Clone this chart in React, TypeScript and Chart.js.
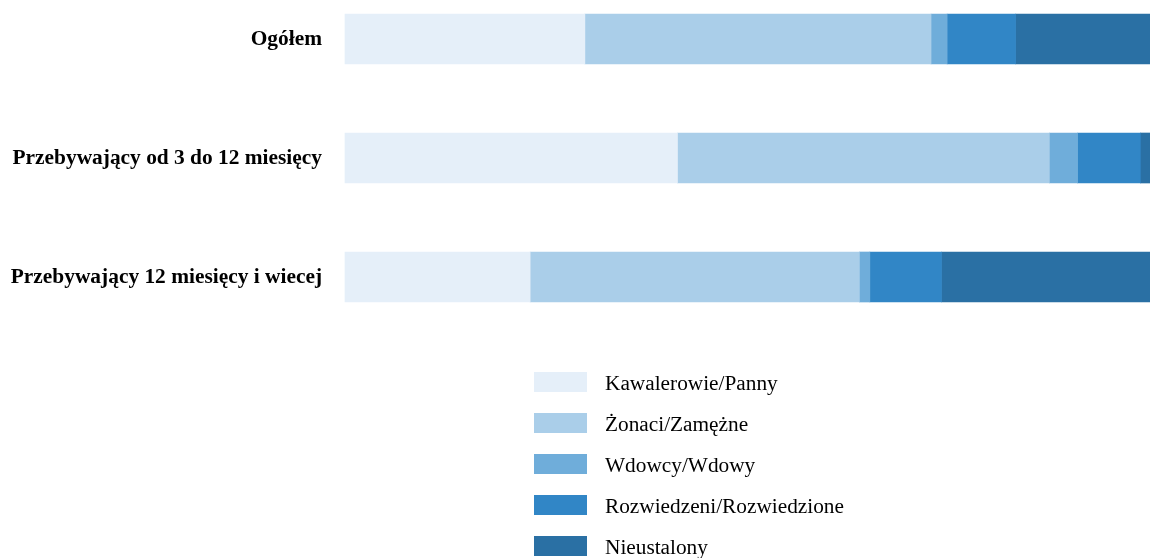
import React, { useEffect, useRef } from "react";
import { Chart, registerables } from "chart.js";

Chart.register(...registerables);

const categories = [
  "Ogółem",
  "Przebywający od 3 do 12 miesięcy",
  "Przebywający 12 miesięcy i wiecej",
];

const seriesNames = [
  "Kawalerowie/Panny",
  "Żonaci/Zamężne",
  "Wdowcy/Wdowy",
  "Rozwiedzeni/Rozwiedzione",
  "Nieustalony",
];

const kawalerowie = [29.8, 41.3, 23.0];
const zonaci = [43.0, 46.2, 40.9];
const wdowcy = [2.0, 3.5, 1.3];
const rozwiedzeni = [8.5, 7.8, 8.9];
const nieustalony = [16.7, 1.2, 25.9];

const seriesValues = [kawalerowie, zonaci, wdowcy, rozwiedzeni, nieustalony];
const seriesColors = ["#E5EFF9", "#AACEE9", "#6FADDA", "#3186C6", "#2A70A4"];

const FONT = "'Liberation Serif', 'Times New Roman', Times, serif";

const legendPlugin = {
  id: "verticalLegend",
  afterDraw(chart: any) {
    const ctx = chart.ctx;
    const boxX = 534;
    const boxTop = 372;
    const step = 41;
    ctx.save();
    chart.data.datasets.forEach((ds: any, i: number) => {
      const y = boxTop + i * step;
      ctx.fillStyle = ds.backgroundColor;
      ctx.fillRect(boxX, y, 53, 20);
      ctx.fillStyle = "#000";
      ctx.font = `21.3px ${FONT}`;
      ctx.textAlign = "left";
      ctx.textBaseline = "alphabetic";
      ctx.fillText(ds.label, 605, y + 18);
    });
    ctx.restore();
  },
};

export default function App() {
  const ref = useRef<HTMLCanvasElement | null>(null);

  useEffect(() => {
    if (!ref.current) return;
    const chart = new Chart(ref.current, {
      type: "bar",
      data: {
        labels: categories,
        datasets: seriesNames.map((name, i) => ({
          label: name,
          data: seriesValues[i],
          backgroundColor: seriesColors[i],
          borderWidth: 0,
          barThickness: 50,
          clip: false as any,
        })),
      },
      options: {
        indexAxis: "y",
        animation: false,
        responsive: false,
        layout: { padding: { top: 39, bottom: 281, left: 0, right: 0 } },
        plugins: {
          legend: { display: false },
          tooltip: { enabled: false },
          title: { display: false },
        },
        scales: {
          x: {
            stacked: true,
            display: false,
            min: 0,
            max: 100,
          },
          y: {
            stacked: true,
            offset: false,
            grid: { display: false, drawTicks: false },
            border: { display: false },
            ticks: {
              color: "#000",
              padding: 23,
              font: { family: FONT, size: 21.4, weight: "bold" },
            },
            afterFit: (scale: any) => {
              scale.width = 345;
            },
          },
        },
      },
      plugins: [legendPlugin],
    });
    return () => chart.destroy();
  }, []);

  return (
    <div style={{ position: "fixed", left: 0, top: 0, width: 1150, height: 558, background: "#fff" }}>
      <canvas ref={ref} width={1150} height={558} style={{ display: "block" }} />
    </div>
  );
}
